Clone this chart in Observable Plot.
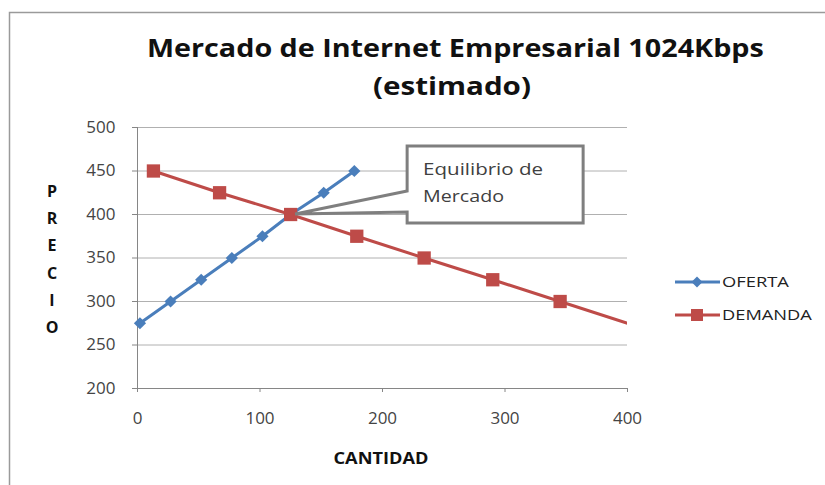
<!DOCTYPE html>
<html>
<head>
<meta charset="utf-8">
<script src="https://cdn.jsdelivr.net/npm/d3@7"></script>
<script src="https://cdn.jsdelivr.net/npm/@observablehq/plot@0.6"></script>
<style>
  html, body { margin: 0; padding: 0; background: #fff; }
  #chart svg { display: block; }
</style>
</head>
<body>
<div id="chart"></div>
<script>
// ---- data ----
const titleLines = ["Mercado de Internet Empresarial 1024Kbps", "(estimado)"];
const xLabel = "CANTIDAD";
const yLabel = "PRECIO";
const calloutLines = ["Equilibrio de", "Mercado"];
const seriesNames = ["OFERTA", "DEMANDA"];

const ofertaCantidad = [2, 27, 52, 77, 102, 125, 152, 177];
const ofertaPrecio   = [275, 300, 325, 350, 375, 400, 425, 450];

const demandaCantidad = [13, 67, 125, 179, 234, 290, 345, 455];
const demandaPrecio   = [450, 425, 400, 375, 350, 325, 300, 250];

const xTicks = [0, 100, 200, 300, 400];
const yTicks = [200, 250, 300, 350, 400, 450, 500];

const equilibrio = {cantidad: 125, precio: 400};

// ---- build ----
const oferta = ofertaCantidad.map((q, i) => ({q, p: ofertaPrecio[i]}));
const demanda = demandaCantidad.map((q, i) => ({q, p: demandaPrecio[i]}));
const inDomain = d => d.q <= 400;

const BLUE = "#4a7ebb", RED = "#be4b48", GRID = "#b0b0b0", AXIS = "#868686";
const FONT = "'Open Sans', sans-serif";

function txt(g, x, y, s, o = {}) {
  const t = g.append("text").attr("x", x).attr("y", y)
    .attr("text-anchor", o.anchor || "start")
    .attr("font-family", FONT)
    .attr("font-weight", o.bold ? "bold" : "normal")
    .attr("font-size", o.size || 14)
    .attr("fill", o.fill || "#111")
    .text(s);
  if (o.baseline) t.attr("dominant-baseline", o.baseline);
  if (o.len) t.attr("data-len", o.len);
  return t;
}

function decorations(index, scales, values, dims) {
  const g = d3.create("svg:g");
  // outer frame
  g.append("rect").attr("x", 9.5).attr("y", 12.5).attr("width", 830).attr("height", 480)
    .attr("fill", "none").attr("stroke", "#9a9a9a").attr("stroke-width", 1.5);
  // title
  txt(g, 147, 57, titleLines[0], {bold: true, size: 25, len: 617});
  txt(g, 373, 95, titleLines[1], {bold: true, size: 25, len: 158});
  // y label stacked letters
  const ys = [193, 220, 247, 275, 302, 329];
  yLabel.split("").forEach((ch, i) => {
    txt(g, 52, ys[i], ch, {anchor: "middle", baseline: "middle", bold: true, size: 16});
  });
  // x label
  txt(g, 381, 464, xLabel, {anchor: "middle", bold: true, size: 16, len: 95});
  // callout anchored at equilibrium point through scales
  const px = scales.x(equilibrio.cantidad), py = scales.y(equilibrio.precio);
  const tipX = px + 5, L = px + 117, R = px + 293, T = py - 68, B = py + 9;
  const path = `M${tipX},${py} L${L},${py - 23} L${L},${T} L${R},${T} L${R},${B} L${L},${B} L${L},${py - 2} Z`;
  g.append("path").attr("d", path).attr("fill", "#fff").attr("stroke", "#7f7f7f")
    .attr("stroke-width", 3).attr("stroke-linejoin", "miter");
  txt(g, L + 16, T + 29, calloutLines[0], {size: 16.5, fill: "#404040", len: 120});
  txt(g, L + 16, T + 56, calloutLines[1], {size: 16.5, fill: "#404040", len: 81});
  // legend
  const legendY = [282, 315];
  const colors = [BLUE, RED];
  const legendLen = [67, 90];
  seriesNames.forEach((name, i) => {
    const y = legendY[i];
    g.append("line").attr("x1", 675).attr("x2", 720).attr("y1", y).attr("y2", y)
      .attr("stroke", colors[i]).attr("stroke-width", 3);
    if (i === 0) {
      g.append("path").attr("d", `M697,${y - 5.5} L702.5,${y} L697,${y + 5.5} L691.5,${y} Z`).attr("fill", BLUE);
    } else {
      g.append("rect").attr("x", 691).attr("y", y - 6).attr("width", 12).attr("height", 12).attr("fill", RED);
    }
    txt(g, 722, y + 5.5, name, {size: 15, fill: "#222", len: legendLen[i]});
  });
  return g.node();
}

const chart = Plot.plot({
  width: 825,
  height: 485,
  marginLeft: 137,
  marginRight: 198,
  marginTop: 127,
  marginBottom: 97,
  style: {fontFamily: FONT, background: "#fff"},
  x: {domain: [0, 400], ticks: xTicks, label: null},
  y: {domain: [200, 500], ticks: yTicks, label: null},
  marks: [
    Plot.gridY(yTicks, {stroke: GRID, strokeOpacity: 1, strokeWidth: 1}),
    Plot.axisY(yTicks, {tickSize: 5, tickPadding: 17, stroke: AXIS, fill: "#444", fontSize: 17, label: null}),
    Plot.axisX(xTicks, {tickSize: 4, tickPadding: 19, stroke: AXIS, fill: "#444", fontSize: 17, label: null}),
    Plot.ruleX([0], {stroke: AXIS}),
    Plot.ruleY([200], {stroke: AXIS}),
    Plot.line(oferta, {x: "q", y: "p", stroke: BLUE, strokeWidth: 3, clip: true}),
    Plot.line(demanda, {x: "q", y: "p", stroke: RED, strokeWidth: 3, clip: true}),
    Plot.dot(oferta.filter(inDomain), {x: "q", y: "p", symbol: "diamond2", r: 5.5, fill: BLUE, stroke: "none"}),
    Plot.dot(demanda.filter(inDomain), {x: "q", y: "p", symbol: "square", r: 7.5, fill: RED, stroke: "none"}),
    decorations
  ]
});
document.getElementById("chart").appendChild(chart);
// stretch texts horizontally to the widths
chart.querySelectorAll("text[data-len]").forEach(t => {
  const target = +t.getAttribute("data-len");
  const w = t.getComputedTextLength();
  if (w > 0) {
    const s = target / w;
    const x = +t.getAttribute("x");
    t.setAttribute("transform", `translate(${x},0) scale(${s},1) translate(${-x},0)`);
  }
});
</script>
</body>
</html>
